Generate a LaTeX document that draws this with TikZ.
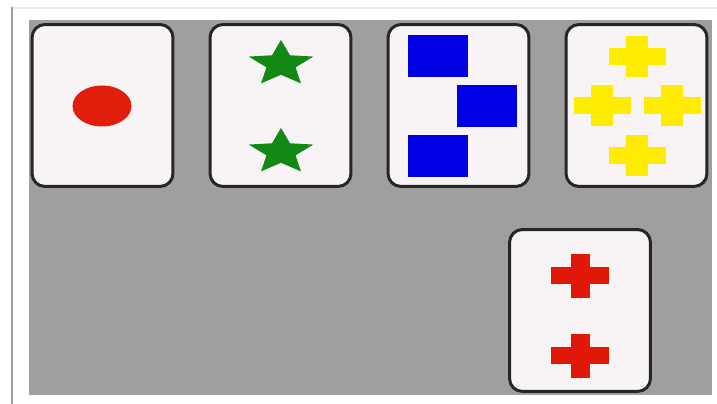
\documentclass[tikz,border=0pt]{standalone}
\usepackage{tikz}
\definecolor{tablegray}{HTML}{9F9F9F}
\definecolor{cardfill}{HTML}{F8F4F6}
\definecolor{cardline}{HTML}{262626}
\definecolor{dotred}{HTML}{E01E0C}
\definecolor{stargreen}{HTML}{148814}
\definecolor{squareblue}{HTML}{0000E4}
\definecolor{crossyellow}{HTML}{FFEC00}
\definecolor{crossred}{HTML}{E0180A}
\tikzset{
    card/.style={draw=cardline, line width=1.7pt, fill=cardfill, rounded corners=0.26cm,
        minimum width=2.82cm, minimum height=3.24cm, inner sep=0pt},
    pics/starmark/.style={code={
        \fill[stargreen] (0,-1) \foreach \k in {1,...,9}{
            -- ({sin(36*\k)*ifthenelse(mod(\k,2)==1,0.45,1)}, {-cos(36*\k)*ifthenelse(mod(\k,2)==1,0.45,1)})
        } -- cycle;
    }}
}
\begin{document}
\begin{tikzpicture}[x=0.02cm, y=-0.02cm]
        \useasboundingbox (0,0) rectangle (717,404);
        % frame and table
        \draw[gray!15, line width=0.6pt] (12,8) -- (717,8);
        \draw[gray!75, line width=1.1pt] (12,7) -- (12,404);
        \fill[tablegray] (29,20) rectangle (712,395);
        % cards
        \foreach \x/\name in {102.5/one, 280.5/two, 458.5/three, 636.5/four} {
            \node[card] (\name) at (\x, 105.5) {};
        }
        \node[card] (two red) at (580, 310.5) {};
        % one red dot
        \fill[dotred] (102, 106) ellipse (29.5 and 20.5);
        % two stars
        \pic[xscale=34, yscale=24] at (281, 64) {starmark};
        \pic[xscale=34, yscale=24] at (281, 152) {starmark};
        % three squares
        \fill[squareblue] (408, 35) rectangle (468, 77);
        \fill[squareblue] (457, 85) rectangle (517, 127);
        \fill[squareblue] (408, 135) rectangle (468, 177);
        % four yellow crosses
        \foreach \cx/\cy in {637/57, 602/106, 672/106, 637/156} {
            \fill[crossyellow] (\cx-28.5, \cy-8.5) rectangle (\cx+28.5, \cy+8.5);
            \fill[crossyellow] (\cx-11, \cy-20.5) rectangle (\cx+11, \cy+20.5);
        }
        % two red crosses
        \foreach \cy in {276, 356} {
            \fill[crossred] (551, \cy-8.5) rectangle (609, \cy+8.5);
            \fill[crossred] (570.5, \cy-22) rectangle (589.5, \cy+22);
        }
    \end{tikzpicture}
\end{document}
